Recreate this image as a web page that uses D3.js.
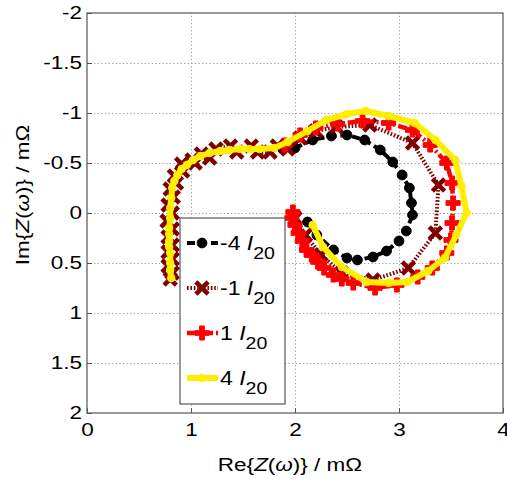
<!DOCTYPE html>
<meta charset="utf-8">
<script src="https://d3js.org/d3.v7.min.js"></script>
<style>
    html, body { margin: 0; background: white; }
    text { font-family: "Liberation Sans", Arial, sans-serif; }
    .grid line { stroke: #9a9a9a; stroke-dasharray: 1.2,2.4; }
    .grid path { display: none; }
    .axis path { display: none; }
    .axis line { stroke: #555; }
</style>
<body></body>
<script>
    // DATA (Re, Im) in mOhm
    const tickX = [0, 1, 2, 3, 4];
    const tickY = [-2, -1.5, -1, -0.5, 0, 0.5, 1, 1.5, 2];

    const seriesNames = ["-4", "-1", "1", "4"];

    const minus4 = [[1.88,-0.64],[2.0,-0.65],[2.17,-0.73],[2.35,-0.77],[2.5,-0.78],[2.67,-0.73],
        [2.82,-0.63],[2.94,-0.51],[3.03,-0.38],[3.1,-0.25],[3.12,-0.1],[3.13,0.02],[3.07,0.18],
        [3.0,0.28],[2.88,0.38],[2.75,0.44],[2.6,0.47],[2.5,0.45],[2.37,0.37],[2.21,0.22],[2.12,0.09]];

    const minus1 = [[0.8,0.66],[0.82,0.6],[0.78,0.53],[0.82,0.46],[0.78,0.39],[0.82,0.32],[0.78,0.24],
        [0.82,0.16],[0.77,0.08],[0.82,0.0],[0.78,-0.08],[0.83,-0.16],[0.8,-0.24],[0.86,-0.3],
        [0.84,-0.37],[0.92,-0.42],[0.91,-0.49],[1.01,-0.53],[1.04,-0.5],[1.1,-0.59],[1.18,-0.55],
        [1.24,-0.64],[1.38,-0.67],[1.44,-0.61],[1.58,-0.67],[1.64,-0.61],[1.76,-0.61],[1.83,-0.67],
        [1.93,-0.64],[2.05,-0.75],[2.2,-0.82],[2.4,-0.86],[2.72,-0.88],[3.13,-0.7],[3.38,-0.28],
        [3.35,0.2],[3.09,0.55],[2.75,0.67],[2.45,0.6],[2.25,0.42],[2.1,0.22],[2.0,0.05]];

    const plus1 = [[1.9,-0.68],[2.05,-0.78],[2.2,-0.85],[2.41,-0.89],[2.65,-0.92],[2.9,-0.9],
        [3.13,-0.83],[3.3,-0.68],[3.46,-0.5],[3.51,-0.3],[3.52,-0.1],[3.51,0.1],[3.5,0.27],
        [3.46,0.4],[3.32,0.55],[3.18,0.64],[2.98,0.72],[2.77,0.75],[2.56,0.7],[2.45,0.66],
        [2.37,0.62],[2.28,0.55],[2.22,0.49],[2.16,0.42],[2.11,0.37],[2.07,0.28],[2.03,0.2],
        [2.0,0.12],[1.97,0.05],[1.98,-0.01]];

    const plus4 = [[0.81,0.65],[0.8,0.57],[0.8,0.5],[0.8,0.4],[0.79,0.34],[0.79,0.28],[0.79,0.21],
        [0.79,0.15],[0.8,0.05],[0.8,-0.05],[0.81,-0.15],[0.82,-0.25],[0.84,-0.32],[0.87,-0.38],
        [0.91,-0.44],[0.96,-0.48],[1.02,-0.53],[1.09,-0.57],[1.18,-0.6],[1.28,-0.62],[1.37,-0.63],
        [1.47,-0.64],[1.56,-0.64],[1.66,-0.64],[1.8,-0.65],[1.93,-0.71],[2.12,-0.82],[2.3,-0.93],
        [2.5,-0.99],[2.68,-1.02],[2.9,-0.97],[3.15,-0.9],[3.35,-0.73],[3.54,-0.53],[3.6,-0.27],
        [3.65,0],[3.55,0.22],[3.44,0.45],[3.28,0.58],[3.08,0.69],[2.9,0.7],[2.69,0.69],[2.45,0.54],
        [2.27,0.34],[2.17,0.12]];

    // DESIGN CONSTANTS
    const width = 507, height = 481;
    const plotL = 87, plotR = 503, plotT = 13, plotB = 413;
    const STRETCH = 1.25;   // the text in the figure is drawn wide

    const styles = [
        { data: minus4, color: "#000000", dash: "8,4",     lw: 4,   sym: d3.symbolCircle, size: 75,  fill: true },
        { data: minus1, color: "#800000", dash: "1.6,1.8", lw: 4,   sym: d3.symbolX,      size: 100, fill: false },
        { data: plus1,  color: "#ff0000", dash: "9,3,2,3", lw: 4.5, sym: d3.symbolCross,  size: 110, fill: true },
        { data: plus4,  color: "#ffee00", dash: null,      lw: 6,   sym: d3.symbolCircle, size: 45,  fill: true }
    ];

    const svg = d3.select("body").append("svg")
        .attr("width", width)
        .attr("height", height);

    const x = d3.scaleLinear().domain([0, 4]).range([plotL, plotR]);
    const y = d3.scaleLinear().domain([-2, 2]).range([plotT, plotB]);

    // grid lines
    svg.append("g").attr("class", "grid")
        .attr("transform", `translate(0 ${plotB})`)
        .call(d3.axisBottom(x).tickValues(tickX.slice(1, -1)).tickSize(-(plotB - plotT)).tickFormat(""));
    svg.append("g").attr("class", "grid")
        .attr("transform", `translate(${plotL} 0)`)
        .call(d3.axisLeft(y).tickValues(tickY.slice(1, -1)).tickSize(-(plotR - plotL)).tickFormat(""));

    // axes with inward ticks
    const xAxis = svg.append("g").attr("class", "axis")
        .attr("transform", `translate(0 ${plotB})`)
        .call(d3.axisBottom(x).tickValues(tickX).tickSize(-5).tickFormat(d => String(d)));
    const yAxis = svg.append("g").attr("class", "axis")
        .attr("transform", `translate(${plotL} 0)`)
        .call(d3.axisLeft(y).tickValues(tickY).tickSize(-5).tickFormat(d => String(d)));
    svg.selectAll(".axis text")
        .attr("font-size", 18)
        .attr("fill", "#000")
        .attr("transform", `scale(${STRETCH},1)`)
        .style("font-family", "Liberation Sans, Arial, sans-serif");
    xAxis.selectAll("text").attr("y", 10);
    yAxis.selectAll("text").attr("x", -5 / STRETCH);

    svg.append("rect")
        .attr("x", plotL).attr("y", plotT)
        .attr("width", plotR - plotL).attr("height", plotB - plotT)
        .attr("fill", "none").attr("stroke", "#555").attr("stroke-width", 1.2);

    // series
    const line = d3.line().x(d => x(d[0])).y(d => y(d[1]));

    function drawMarkers(g, s, pts) {
        const sym = d3.symbol().type(s.sym).size(s.size);
        g.selectAll("path.m").data(pts).enter().append("path")
            .attr("class", "m")
            .attr("d", sym)
            .attr("transform", d => `translate(${d[0]} ${d[1]})`)
            .attr("fill", s.fill ? s.color : "none")
            .attr("stroke", s.color)
            .attr("stroke-width", s.fill ? 1 : 4.5);
    }

    styles.forEach(s => {
        const g = svg.append("g");
        g.append("path")
            .attr("d", line(s.data))
            .attr("fill", "none")
            .attr("stroke", s.color)
            .attr("stroke-width", s.lw)
            .attr("stroke-linejoin", "round")
            .attr("stroke-dasharray", s.dash);
        drawMarkers(g, s, s.data.map(d => [x(d[0]), y(d[1])]));
    });

    // legend
    const lg = svg.append("g");
    lg.append("rect")
        .attr("x", 180).attr("y", 218).attr("width", 105).attr("height", 186)
        .attr("fill", "white").attr("stroke", "#555").attr("stroke-width", 1.2);

    const LEG_STRETCH = 1.15;
    const rowY = d3.scalePoint().domain(seriesNames).range([243, 378]);
    styles.forEach((s, i) => {
        const cy = rowY(seriesNames[i]);
        const g = lg.append("g");
        g.append("line")
            .attr("x1", 187).attr("x2", 218).attr("y1", cy).attr("y2", cy)
            .attr("stroke", s.color).attr("stroke-width", s.lw)
            .attr("stroke-dasharray", s.dash);
        drawMarkers(g, s, [[202, cy]]);
        const t = g.append("text")
            .attr("x", 220 / LEG_STRETCH).attr("y", cy + 7)
            .attr("transform", `scale(${LEG_STRETCH},1)`)
            .attr("font-size", 20);
        t.append("tspan").text(seriesNames[i] + " ");
        t.append("tspan").attr("font-style", "italic").text("I");
        t.append("tspan").attr("dy", 9).attr("font-size", 17).text("20");
    });

    // axis labels
    function axisLabel(sel, head) {
        sel.append("tspan").text(head + "{");
        sel.append("tspan").attr("font-style", "italic").text("Z");
        sel.append("tspan").text("(");
        sel.append("tspan").attr("font-style", "italic").text("ω");
        sel.append("tspan").text(")} / mΩ");
    }

    axisLabel(svg.append("text")
        .attr("transform", `translate(290 471) scale(${STRETCH},1)`)
        .attr("text-anchor", "middle")
        .attr("font-size", 18), "Re");

    axisLabel(svg.append("text")
        .attr("transform", `translate(29 195) rotate(-90) scale(${STRETCH},1)`)
        .attr("text-anchor", "middle")
        .attr("font-size", 18), "Im");
</script>
